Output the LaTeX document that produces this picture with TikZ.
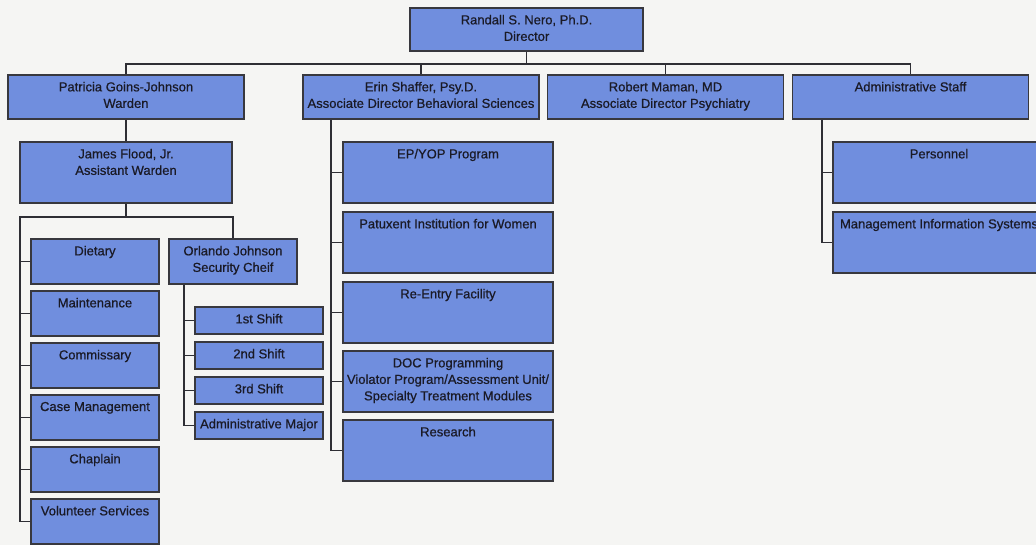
\documentclass[tikz,border=0pt]{standalone}
\usepackage{fontspec}
\setmainfont[FakeBold=0.7]{Liberation Sans}
\definecolor{boxblue}{RGB}{112,142,222}
\definecolor{boxline}{RGB}{56,56,62}
\definecolor{treeline}{RGB}{46,46,52}
\definecolor{ink}{RGB}{26,26,38}
\definecolor{paper}{RGB}{245,245,243}
\begin{document}
\begin{tikzpicture}[x=1pt,y=-1pt]
	\tikzset{unit/.style={draw=boxline, fill=boxblue, line width=1.5pt, inner sep=0pt},
		head/.style={unit, minimum width=236pt, minimum height=44pt},
		wide/.style={unit, minimum width=212pt, minimum height=61pt},
		small/.style={unit, minimum width=128pt, minimum height=45pt},
		shiftbox/.style={unit, minimum width=128pt, minimum height=27pt},
		unit text/.style={anchor=north, align=center, inner sep=0pt, text=ink,
				font=\fontsize{13}{16.5}\selectfont},
		tree lines/.style={line width=1.6pt, draw=treeline}}
	\useasboundingbox (0,0) rectangle (1036,545);
	\fill[paper] (0,0) rectangle (1036,545);
	\clip (0,0) rectangle (1036,545);

	% top two rows
	\node[unit, minimum width=233pt, minimum height=43pt] (dir) at (526.5, 29.5) {};
	\node[head] (warden) at (126, 97) {};
	\node[head] (shaffer) at (421, 97) {};
	\node[head] (maman) at (665.5, 97) {};
	\node[head] (admin) at (910.5, 97) {};
	\node[unit text] (dir-t) at ([yshift=-7.5pt]dir.north) {Randall S. Nero, Ph.D.\\Director};
	\node[unit text] (warden-t) at ([yshift=-7.5pt]warden.north) {Patricia Goins-Johnson\\Warden};
	\node[unit text] (shaffer-t) at ([yshift=-7.5pt]shaffer.north) {Erin Shaffer, Psy.D.\\Associate Director Behavioral Sciences};
	\node[unit text] (maman-t) at ([yshift=-7.5pt]maman.north) {Robert Maman, MD\\Associate Director Psychiatry};
	\node[unit text] (admin-t) at ([yshift=-7.5pt]admin.north) {Administrative Staff};

	% warden side
	\node[wide] (flood) at (126, 172.5) {};
	\node[unit text] (flood-t) at ([yshift=-7.5pt]flood.north) {James Flood, Jr.\\Assistant Warden};
	\node[small] (dietary) at (95, 261.5) {};
	\node[small] (maint) at (95, 313.5) {};
	\node[small] (commis) at (95, 365.5) {};
	\node[small] (casemgmt) at (95, 417.5) {};
	\node[small] (chaplain) at (95, 469.5) {};
	\node[small] (volunteer) at (95, 521.5) {};
	\node[unit text] (dietary-t) at ([yshift=-7.5pt]dietary.north) {Dietary};
	\node[unit text] (maint-t) at ([yshift=-7.5pt]maint.north) {Maintenance};
	\node[unit text] (commis-t) at ([yshift=-7.5pt]commis.north) {Commissary};
	\node[unit text] (casemgmt-t) at ([yshift=-7.5pt]casemgmt.north) {Case Management};
	\node[unit text] (chaplain-t) at ([yshift=-7.5pt]chaplain.north) {Chaplain};
	\node[unit text] (volunteer-t) at ([yshift=-7.5pt]volunteer.north) {Volunteer Services};
	\node[small] (johnson) at (233, 261.5) {};
	\node[unit text] (johnson-t) at ([yshift=-7.5pt]johnson.north) {Orlando Johnson\\Security Cheif};
	\node[shiftbox] (shift1) at (259, 320.5) {};
	\node[shiftbox] (shift2) at (259, 355.5) {};
	\node[shiftbox] (shift3) at (259, 390.5) {};
	\node[shiftbox] (admaj) at (259, 425.5) {};
	\node[unit text] (shift1-t) at ([yshift=-7.5pt]shift1.north) {1st Shift};
	\node[unit text] (shift2-t) at ([yshift=-7.5pt]shift2.north) {2nd Shift};
	\node[unit text] (shift3-t) at ([yshift=-7.5pt]shift3.north) {3rd Shift};
	\node[unit text] (admaj-t) at ([yshift=-7.5pt]admaj.north) {Administrative Major};

	% behavioral sciences
	\node[wide, minimum width=210pt] (epyop) at (448, 172.5) {};
	\node[wide, minimum width=210pt] (patuxent) at (448, 242.5) {};
	\node[wide, minimum width=210pt] (reentry) at (448, 312.5) {};
	\node[wide, minimum width=210pt] (doc) at (448, 381.5) {};
	\node[wide, minimum width=210pt] (research) at (448, 450.5) {};
	\node[unit text] (epyop-t) at ([yshift=-7.5pt]epyop.north) {EP/YOP Program};
	\node[unit text] (patuxent-t) at ([yshift=-7.5pt]patuxent.north) {Patuxent Institution for Women};
	\node[unit text] (reentry-t) at ([yshift=-7.5pt]reentry.north) {Re-Entry Facility};
	\node[unit text] (doc-t) at ([yshift=-7.5pt]doc.north) {DOC Programming\\Violator Program/Assessment Unit/\\Specialty Treatment Modules};
	\node[unit text] (research-t) at ([yshift=-7.5pt]research.north) {Research};

	% administrative staff
	\node[wide] (personnel) at (939, 172.5) {};
	\node[wide] (mis) at (939, 242.5) {};
	\node[unit text] (personnel-t) at ([yshift=-7.5pt]personnel.north) {Personnel};
	\node[unit text] (mis-t) at ([yshift=-7.5pt]mis.north) {Management Information Systems};

	\draw[tree lines] (dir.south) -- ++(0,12) coordinate (top bus);
	\draw[tree lines] (warden.north) |- (top bus) -| (admin.north);
	\draw[tree lines] (shaffer.north) -- (shaffer.north |- top bus);
	\draw[tree lines] (maman.north) -- (maman.north |- top bus);

	\draw[tree lines] (warden.south) -- (flood.north);
	\draw[tree lines] (flood.south) -- ++(0,13) coordinate (warden bus);
	\draw[tree lines] (volunteer.west) -- ++(-10,0) |- (warden bus) -| (johnson.north);
	\foreach \n in {dietary,maint,commis,casemgmt,chaplain}
		\draw[tree lines] (\n.west) -- ++(-10,0);
	\draw[tree lines] ([xshift=16pt]johnson.south west) |- (admaj.west);
	\foreach \n in {shift1,shift2,shift3}
		\draw[tree lines] (\n.west) -- ++(-10,0);

	\draw[tree lines] ([xshift=29pt]shaffer.south west) |- (research.west);
	\foreach \n in {epyop,patuxent,reentry,doc}
		\draw[tree lines] (\n.west) -- ++(-10,0);

	\draw[tree lines] ([xshift=30pt]admin.south west) |- (mis.west);
	\draw[tree lines] (personnel.west) -- ++(-10,0);
\end{tikzpicture}
\end{document}
